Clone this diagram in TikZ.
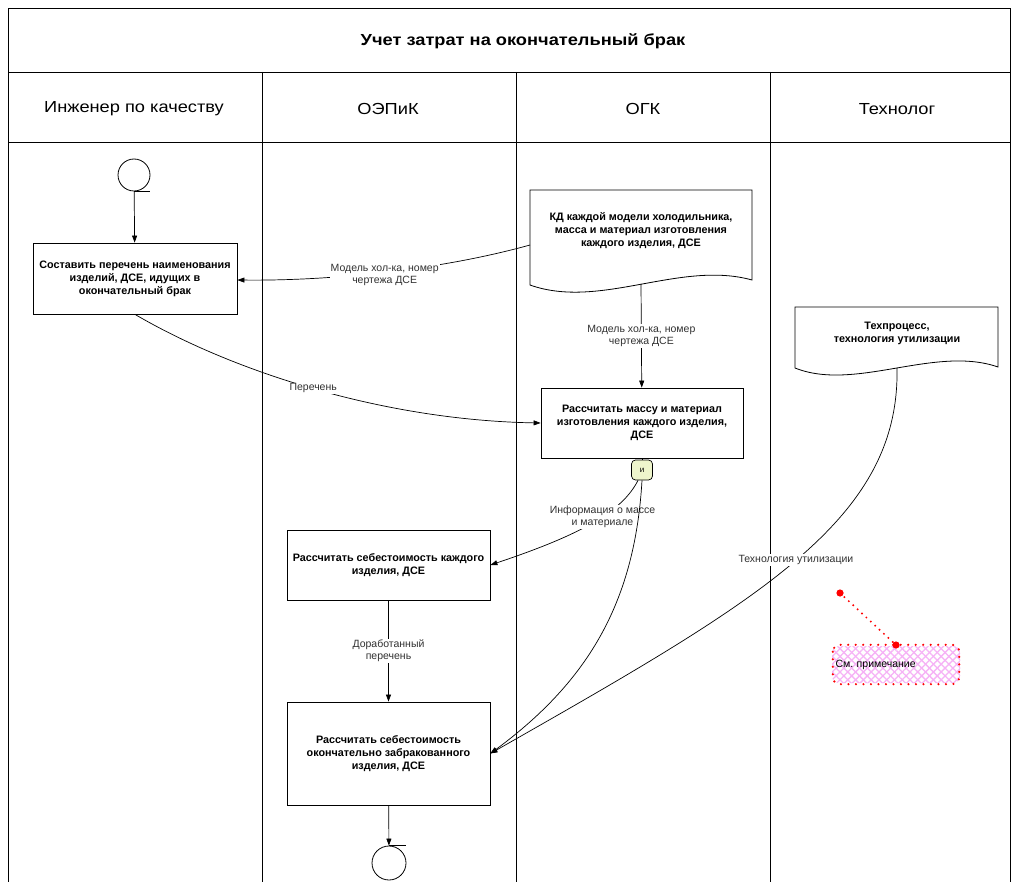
\documentclass[tikz,border=0pt]{standalone}
\usepackage{fontspec}
\setmainfont{Liberation Sans}
\newfontfamily\widesans[FakeStretch=1.14]{Liberation Sans}
\usetikzlibrary{arrows.meta,patterns.meta}

\definecolor{junctionfill}{RGB}{238,245,204}
\definecolor{notehatch}{RGB}{246,178,246}
\definecolor{labeltext}{RGB}{50,50,50}

\tikzset{
  frame/.style={draw=black, line width=0.8pt},
  proc/.style={draw=black, line width=0.8pt, fill=white, align=center,
    font=\fontsize{10.8}{13}\selectfont\bfseries, inner sep=2pt},
  doctext/.style={align=center, font=\fontsize{10.8}{13}\selectfont\bfseries, inner sep=0pt},
  docshape/.style={draw=black, line width=0.8pt, fill=white},
  lbl/.style={fill=white, align=center, text=labeltext,
    font=\fontsize{10.5}{12}\selectfont, inner sep=1pt},
  arr/.style={-{Triangle[length=7pt,width=5pt]}, line width=0.7pt},
  flow/.style={line width=0.7pt},
  terminal/.style={circle, draw=black, line width=0.8pt, inner sep=0pt},
  junction/.style={draw=black, line width=0.7pt, rounded corners=4pt, fill=junctionfill,
    minimum width=21pt, minimum height=20pt, inner sep=0pt, font=\fontsize{8}{9}\selectfont},
  notebox/.style={rounded corners=7pt, fill=white,
    postaction={pattern={Lines[angle=45,distance=5.5pt,line width=1.3pt]}, pattern color=notehatch},
    postaction={pattern={Lines[angle=-45,distance=5.5pt,line width=1.3pt]}, pattern color=notehatch},
    minimum width=128pt, minimum height=37pt, text width=121pt, align=left,
    font=\fontsize{10.5}{12}\selectfont, inner sep=0pt},
  noteborder/.style={draw=red, line width=2.4pt, dash pattern=on 0pt off 7.5pt, line cap=round,
    rounded corners=7pt},
  header/.style={font=\fontsize{16}{18}\selectfont\widesans},
}

\begin{document}
\begin{tikzpicture}[x=1pt,y=-1pt]
\useasboundingbox (0,0) rectangle (1011,882);

% swimlane frame
\draw[frame] (8,882) -- (8,8) -- (1010.5,8) -- (1010.5,882);
\draw[frame] (8,72) -- (1011,72);
\draw[frame] (8,142) -- (1011,142);
\foreach \lx in {262,516,770} \draw[frame] (\lx,72) -- (\lx,882);

\node[font=\fontsize{16}{18}\selectfont\widesans\bfseries] (title) at (523,41) {Учет затрат на окончательный брак};
\node[header] (h1) at (134,109) {Инженер по качеству};
\node[header] (h2) at (388,109) {ОЭПиК};
\node[header] (h3) at (643,109) {ОГК};
\node[header] (h4) at (897,109) {Технолог};

% start and end events
\node[terminal, minimum size=32pt] (start) at (134,175) {};
\draw[flow] (start.south) -- ++(16,0);
\node[terminal, minimum size=34pt] (finish) at (389,863) {};
\draw[flow] (finish.north) -- ++(17,0);

% process steps
\node[proc, minimum width=204pt, minimum height=71pt] (b1) at (135,278.5)
  {Составить перечень наименования\\изделий, ДСЕ, идущих в\\окончательный брак};
\node[proc, minimum width=202pt, minimum height=70pt] (b2) at (642,423)
  {Рассчитать массу и материал\\изготовления каждого изделия,\\ДСЕ};
\node[proc, minimum width=203pt, minimum height=70pt] (b3) at (388.5,565)
  {Рассчитать себестоимость каждого\\изделия, ДСЕ};
\node[proc, minimum width=203pt, minimum height=103pt] (b4) at (388.5,753.5)
  {Рассчитать себестоимость\\окончательно забракованного\\изделия, ДСЕ};

% documents
\draw[docshape] (530,285) -- (530,190) -- (752,190) -- (752,280)
  .. controls (680,260) and (600,310) .. (530,285) -- cycle;
\node[doctext] (kd) at (641,231)
  {КД каждой модели холодильника,\\масса и материал изготовления\\каждого изделия, ДСЕ};
\coordinate (kdout) at (530,245);
\coordinate (kdbot) at (641,284);

\draw[docshape] (795,368) -- (795,307) -- (998,307) -- (998,367)
  .. controls (935,345) and (855,392) .. (795,368) -- cycle;
\node[doctext] (tp) at (897,333) {Техпроцесс,\\технология утилизации};
\coordinate (tpbot) at (897,368);

% and-junction
\node[junction] (and) at (642,470) {и};

% connectors
\draw[arr] (start) -- (b1);
\draw[arr] (kdout) .. controls (440,270) and (330,281) .. (b1.east |- 0,280)
  node[lbl, pos=0.5, yshift=-3pt] {Модель хол-ка, номер\\чертежа ДСЕ};
\draw[arr] (kdbot) -- node[lbl] {Модель хол-ка, номер\\чертежа ДСЕ} (b2);
\draw[arr] (b1.south) .. controls (230,370) and (380,420) .. (b2.west)
  node[lbl, pos=0.5] {Перечень};
\draw[flow] (b2.south) -- (and.north);
\draw[arr] ([xshift=-4pt]and.south) .. controls (622,512) and (580,535) .. (b3.east)
  node[lbl, pos=0.42] {Информация о массе\\и материале};
\draw[arr] (and.south) .. controls (635,600) and (590,680) .. (b4.east);
\draw[arr] (tpbot) .. controls (900,520) and (760,600) .. (b4.east)
  node[lbl, pos=0.5] {Технология утилизации};
\draw[arr] (b3) -- node[lbl] {Доработанный\\перечень} (b4);
\draw[arr] (b4) -- (finish);

% annotation
\coordinate (nd1) at (840,593);
\coordinate (nd2) at (896,645);
\node[notebox] (note) at (896,664.5) {См.\ примечание};
\draw[noteborder] ([xshift=1pt,yshift=1pt]note.north west) rectangle ([xshift=-1pt,yshift=-1pt]note.south east);
\draw[red, line width=2.2pt, dash pattern=on 0pt off 6pt, line cap=round] (nd1) -- (nd2);
\fill[red] (nd1) circle (3.6pt);
\fill[red] (nd2) circle (3.6pt);
\end{tikzpicture}
\end{document}
